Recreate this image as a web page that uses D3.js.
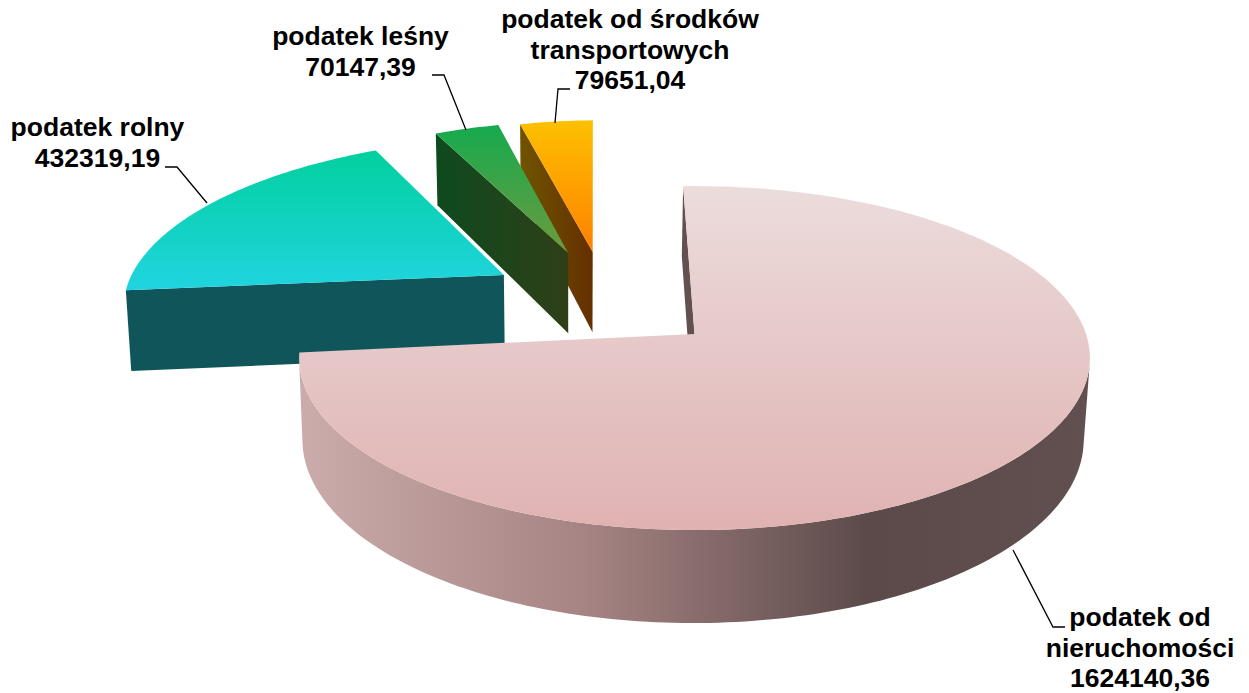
<!DOCTYPE html>
<html>
<head>
<meta charset="utf-8">
<script src="https://cdn.jsdelivr.net/npm/d3@7"></script>
<style>
  html, body { margin: 0; padding: 0; background: #fff; overflow: hidden; }
  text { font-family: "Liberation Sans", Arial, sans-serif; font-weight: bold; font-size: 26.5px; fill: #000; }
</style>
</head>
<body>
<div id="chart"></div>
<script>
// 1. Data
const categories = ["podatek od nieruchomości", "podatek rolny", "podatek leśny", "podatek od środków transportowych"];
const values = [1624140.36, 432319.19, 70147.39, 79651.04];
const labelLines = [["podatek od", "nieruchomości"], ["podatek rolny"], ["podatek leśny"], ["podatek od środków", "transportowych"]];

// 2. Layout of the fake 3D pie
const WIDTH = 1249, HEIGHT = 693;
const cx = 694.5, cy = 334, rx = 391.5, ry = 168.6;
const persp = 0.14;      // how much the far side shrinks
const converge = 0.012;  // sides lean in a bit towards the bottom
const vanishX = 575;     // ...towards this x
const startDeg = -1.2;

// explode offset of each slice in disc units (x right, v towards viewer)
const explode = [[0, 0], [-0.512, -0.368], [-0.346, -0.5146], [-0.279, -0.5217]];
// thickness in px, the back slices came out a little thicker
const depths = [80, 84, 86, 86];
// stretch of the disc in the v direction, per slice
const vStretch = [1, 1.025, 1.02, 1.02];
// small nudge of the start and end angle in degrees, slices sit a bit off in the original
const nudge = [[-0.7, 0], [0.7, -1], [-0.9, -0.9], [-0.9, -0.9]];
// where each label sits: text centre x, first baseline, then the leader line
const labelX = [1140, 97.5, 360.5, 630];
const labelY = [626, 136, 45, 28];
const lineGap = 30.5;
const leaders = [
  [[1013, 550], [1053, 627], [1065, 627]],
  [[165, 167], [177, 167], [207, 203]],
  [[432, 75], [444, 75], [466, 130]],
  [[570, 89], [558, 89], [555, 123]]
];

// top gradient (vertical) per slice
const topColors = [["#ecdcdc", "#e0b2b2"], ["#02d09e", "#20d4e0"], ["#16aa4e", "#6e9a3e"], ["#fdc000", "#ff8000"]];
const topRange = [[185, 530], [150, 290], [126, 253], [121, 252]];
// front wall gradient (horizontal)
const wallColors = [["#63504f", "#63504f"], ["#0f555a", "#0f555a"], ["#0e4a1e", "#2f3f18"], ["#705400", "#653000"]];
const wallRange = [[680, 694], [126, 505], [435, 568], [519, 592]];

const svg = d3.select("#chart").append("svg")
  .attr("width", WIDTH)
  .attr("height", HEIGHT)
  .style("display", "block");
const defs = svg.append("defs");

function addGradient(id, x1, y1, x2, y2, stops) {
  const g = defs.append("linearGradient")
    .attr("id", id)
    .attr("gradientUnits", "userSpaceOnUse")
    .attr("x1", x1).attr("y1", y1).attr("x2", x2).attr("y2", y2);
  stops.forEach(s => g.append("stop").attr("offset", s[0]).attr("stop-color", s[1]));
}

values.forEach((d, i) => {
  addGradient("top" + i, 0, topRange[i][0], 0, topRange[i][1], [[0, topColors[i][0]], [1, topColors[i][1]]]);
  addGradient("wall" + i, wallRange[i][0], 0, wallRange[i][1], 0, [[0, wallColors[i][0]], [1, wallColors[i][1]]]);
});
// the big outer side goes from light to dark, left to right
addGradient("side0", 300, 0, 1090, 0, [[0, "#cbabab"], [0.36, "#a68483"], [0.72, "#5c4a4a"], [1, "#624f4f"]]);

// 3. Angles come from d3.pie
const pie = d3.pie().sort(null)
  .startAngle(startDeg * Math.PI / 180)
  .endAngle((startDeg + 360) * Math.PI / 180);
const arcs = pie(values);
const rad = Math.PI / 180;

// disc point -> screen. z is 0 on the top face and 1 on the bottom face
function project(x, v, z, i) {
  const s = 1 / (1 - persp * v);
  const px = cx + rx * x * s;
  return [px + (vanishX - px) * converge * z, cy + (ry * v + depths[i] * z) * s];
}

function arcPoints(a0, a1, i, z) {
  const steps = Math.max(4, Math.round((a1 - a0) / 0.02));
  return d3.range(steps + 1).map(k => {
    const a = a0 + (a1 - a0) * k / steps;
    return project(explode[i][0] + Math.sin(a), explode[i][1] - Math.cos(a) * vStretch[i], z, i);
  });
}

const line = d3.line().curve(d3.curveLinear);
const apex = (i, z) => project(explode[i][0], explode[i][1], z, i);

// 4. Draw slices back to front: orange, green, teal, big one
[3, 2, 1, 0].forEach(i => {
  const a0 = arcs[i].startAngle + nudge[i][0] * rad;
  const a1 = arcs[i].endAngle + nudge[i][1] * rad;
  const g = svg.append("g").attr("class", "slice");
  const rimTop = arcPoints(a0, a1, i, 0);
  const rimBottom = arcPoints(a0, a1, i, 1);

  // outer side, only the big slice shows it.
  // Only quads facing the viewer, back facing ones wind the other way and punch holes in the fill
  if (i === 0) {
    const quads = d3.range(rimTop.length - 1)
      .map(k => [rimTop[k], rimTop[k + 1], rimBottom[k + 1], rimBottom[k]]);
    const frontSign = Math.sign(d3.polygonArea(quads[Math.floor(quads.length / 2)]));
    g.append("path")
      .attr("d", quads
        .filter(q => Math.sign(d3.polygonArea(q)) === frontSign)
        .map(q => line(q) + "Z")
        .join(""))
      .attr("fill", "url(#side0)");
  }

  // radial wall at the start edge
  g.append("path")
    .attr("d", line([apex(i, 0), rimTop[0], rimBottom[0], apex(i, 1)]) + "Z")
    .attr("fill", `url(#wall${i})`);

  // top face
  g.append("path")
    .attr("d", line([apex(i, 0)].concat(rimTop)) + "Z")
    .attr("fill", `url(#top${i})`);
});

// 5. Leader lines and labels
leaders.forEach(pts => {
  svg.append("path")
    .attr("d", line(pts))
    .attr("fill", "none")
    .attr("stroke", "#000")
    .attr("stroke-width", 1.3);
});

const formatValue = v => v.toFixed(2).replace(".", ",");

categories.forEach((c, i) => {
  const t = svg.append("text")
    .attr("text-anchor", "middle")
    .attr("x", labelX[i])
    .attr("y", labelY[i]);
  labelLines[i].concat([formatValue(values[i])]).forEach((s, k) => {
    t.append("tspan")
      .attr("x", labelX[i])
      .attr("dy", k === 0 ? 0 : lineGap)
      .text(s);
  });
});
</script>
</body>
</html>
